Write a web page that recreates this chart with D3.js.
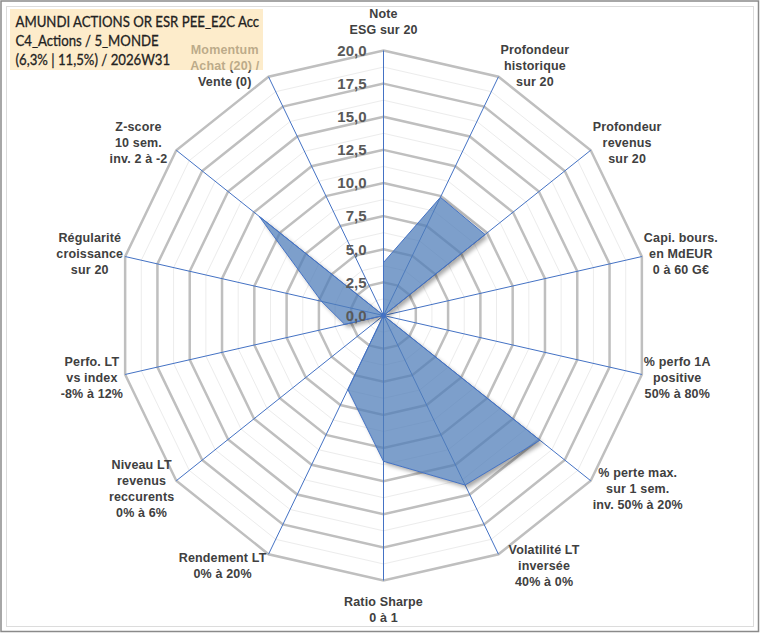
<!DOCTYPE html>
<html>
<head>
<meta charset="utf-8">
<script src="https://cdn.jsdelivr.net/npm/d3@7"></script>
<style>
  html, body { margin: 0; padding: 0; background: #fff; }
  svg { display: block; }
</style>
</head>
<body>
<div id="chart"></div>
<script>
// axis labels, clockwise from the top
const categories = [
  ["Note", "ESG sur 20"],
  ["Profondeur", "historique", "sur 20"],
  ["Profondeur", "revenus", "sur 20"],
  ["Capi. bours.", "en MdEUR", "0 à 60 G€"],
  ["% perfo 1A", "positive", "50% à 80%"],
  ["% perte max.", "sur 1 sem.", "inv. 50% à 20%"],
  ["Volatilité LT", "inversée", "40% à 0%"],
  ["Ratio Sharpe", "0 à 1"],
  ["Rendement LT", "0% à 20%"],
  ["Niveau LT", "revenus", "reccurents", "0% à 6%"],
  ["Perfo. LT", "vs index", "-8% à 12%"],
  ["Régularité", "croissance", "sur 20"],
  ["Z-score", "10 sem.", "inv. 2 à -2"],
  ["Momentum", "Achat (20) /", "Vente (0)"]
];

const values = [4.0, 9.9, 9.8, 0, 0, 15.1, 14.2, 11.0, 6.2, 0, 3.0, 4.8, 12.0, 0];

const ticks = [0, 2.5, 5, 7.5, 10, 12.5, 15, 17.5, 20];
const tickLabels = ["0,0", "2,5", "5,0", "7,5", "10,0", "12,5", "15,0", "17,5", "20,0"];

const titleLines = [
  "AMUNDI ACTIONS OR ESR PEE_E2C Acc",
  "C4_Actions / 5_MONDE",
  "(6,3% | 11,5%) / 2026W31"
];

const width = 760;
const height = 633;
const cx = 383.5, cy = 315.5;
const R = 265;
const n = categories.length;

const svg = d3.select("#chart")
  .append("svg")
  .attr("width", width)
  .attr("height", height)
  .attr("viewBox", [0, 0, width, height]);

// shadow only outside the shape, so the translucent fill stays light
const f = svg.append("defs").append("filter")
  .attr("id", "shadow")
  .attr("x", "-20%").attr("y", "-20%")
  .attr("width", "140%").attr("height", "140%");
f.append("feOffset").attr("in", "SourceAlpha").attr("dx", 2.5).attr("dy", 2.5).attr("result", "off");
f.append("feGaussianBlur").attr("in", "off").attr("stdDeviation", 2).attr("result", "blur");
f.append("feComposite").attr("in", "blur").attr("in2", "SourceAlpha").attr("operator", "out").attr("result", "cut");
f.append("feComponentTransfer").attr("in", "cut")
  .append("feFuncA").attr("type", "linear").attr("slope", 0.35);

// frame
svg.append("rect")
  .attr("x", 1).attr("y", 1)
  .attr("width", width - 2.5).attr("height", height - 2.5)
  .attr("fill", "#fff")
  .attr("stroke", "#8a8a8a")
  .attr("stroke-width", 1.5);
svg.append("rect")
  .attr("x", 6.5).attr("y", 6.5)
  .attr("width", width - 13).attr("height", height - 13)
  .attr("fill", "none")
  .attr("stroke", "#dcdcdc")
  .attr("stroke-width", 1);

const angle = d3.scaleLinear().domain([0, n]).range([0, 2 * Math.PI]);
const r = d3.scaleLinear().domain([0, 20]).range([0, R]);

const g = svg.append("g").attr("transform", `translate(${cx},${cy})`);

const ring = d3.lineRadial()
  .angle((d, i) => angle(i))
  .radius(d => r(d))
  .curve(d3.curveLinearClosed);

// grid: minor every 1.25, major every 2.5
const levels = d3.range(1, 17).map(k => k * 1.25);
g.append("g")
  .selectAll("path")
  .data(levels.filter(v => v % 2.5 !== 0))
  .join("path")
  .attr("d", v => ring(d3.range(n).map(() => v)))
  .attr("fill", "none")
  .attr("stroke", "#ececec")
  .attr("stroke-width", 1);
g.append("g")
  .selectAll("path")
  .data(levels.filter(v => v % 2.5 === 0))
  .join("path")
  .attr("d", v => ring(d3.range(n).map(() => v)))
  .attr("fill", "none")
  .attr("stroke", "#bfbfbf")
  .attr("stroke-width", 2.5);

// spokes
g.append("g")
  .selectAll("line")
  .data(categories)
  .join("line")
  .attr("x1", 0).attr("y1", 0)
  .attr("x2", (d, i) => r(20) * Math.sin(angle(i)))
  .attr("y2", (d, i) => -r(20) * Math.cos(angle(i)))
  .attr("stroke", "#4472c4")
  .attr("stroke-width", 1);

// series
g.append("path")
  .datum(values)
  .attr("d", ring)
  .attr("fill", "#000")
  .attr("filter", "url(#shadow)");

g.append("path")
  .datum(values)
  .attr("d", ring)
  .attr("fill", "#4f7db9")
  .attr("fill-opacity", 0.74)
  .attr("stroke", "#4472c4")
  .attr("stroke-width", 1);

g.append("circle")
  .attr("r", 2.5)
  .attr("fill", "#4472c4");

// value ticks on the top spoke
g.append("g")
  .selectAll("text")
  .data(ticks)
  .join("text")
  .attr("x", -17)
  .attr("y", d => -r(d))
  .attr("dy", "0.35em")
  .attr("text-anchor", "end")
  .attr("font-family", "Liberation Sans, Arial, sans-serif")
  .attr("font-weight", "bold")
  .attr("font-size", 15)
  .attr("fill", "#595959")
  .text((d, i) => tickLabels[i]);

// category labels
const lineH = 16;
const labels = g.append("g")
  .attr("font-family", "Liberation Sans, Arial, sans-serif")
  .attr("font-weight", "bold")
  .attr("font-size", 12.5)
  .attr("letter-spacing", 0.15)
  .attr("fill", "#404040");

categories.forEach((lines, i) => {
  const a = angle(i);
  const vx = r(20) * Math.sin(a);
  const vy = -r(20) * Math.cos(a);
  const t = labels.append("text").attr("text-anchor", "middle");
  lines.forEach((s, j) => t.append("tspan").attr("x", 0).attr("y", j * lineH).text(s));
  const w = t.node().getBBox().width;
  const h = lines.length * lineH;
  const s = Math.sin(a), c = Math.cos(a);
  let bx, by;
  if (Math.abs(s) < 0.1) {
    bx = vx;
    by = c > 0 ? vy - 13 - h / 2 : vy + 13 + h / 2;
  } else {
    // upper diagonal labels on the left sit a little further out
    const gap = (s < 0 && c > 0.5) ? 9 : (s > 0 && c < -0.8 ? 10 : 2);
    bx = s > 0 ? vx + gap + w / 2 : vx - gap - w / 2;
    by = vy - 12 * c;
  }
  t.attr("transform", `translate(${bx},${by - h / 2 + lineH / 2 + 4.5})`);
});

// title box (drawn over the momentum label)
svg.append("rect")
  .attr("x", 10).attr("y", 9)
  .attr("width", 253).attr("height", 61)
  .attr("fill", "rgb(252,226,176)")
  .attr("fill-opacity", 0.66);

const title = svg.append("g")
  .attr("font-family", "Lato, Open Sans, sans-serif")
  .attr("font-size", 15.5)
  .attr("fill", "#222")
  .attr("stroke", "#222")
  .attr("stroke-width", 0.3);
title.selectAll("text")
  .data(titleLines)
  .join("text")
  .attr("x", 0)
  .attr("y", (d, i) => 27 + i * 19.2)
  .text(d => d);
// squeeze to the narrow width of the original face
const w0 = title.select("text").node().getComputedTextLength();
title.attr("transform", `translate(15.5,0) scale(${244 / w0},1)`);

svg.node();
</script>
</body>
</html>
